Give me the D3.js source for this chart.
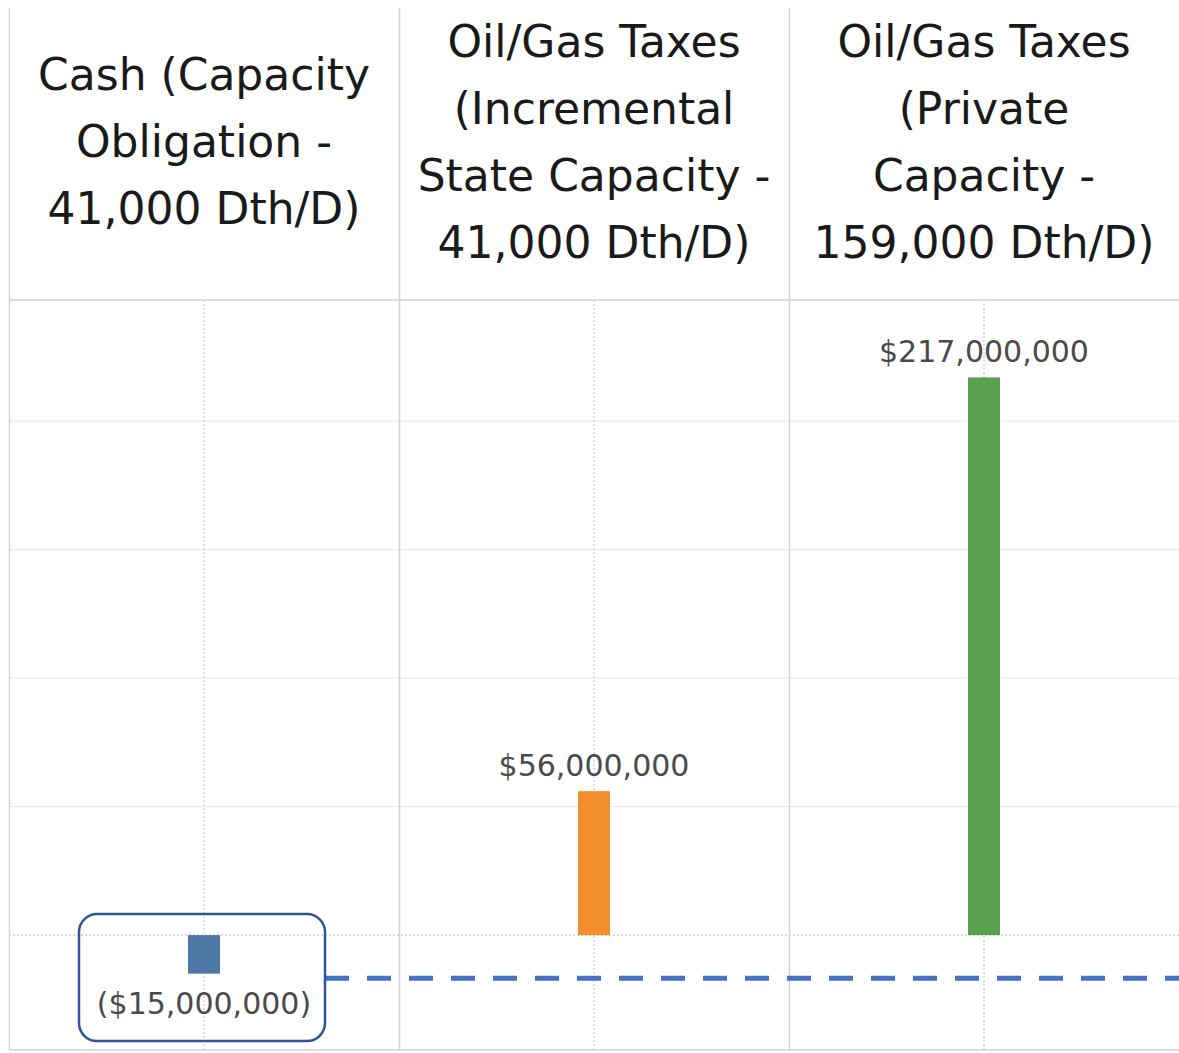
<!DOCTYPE html>
<html>
<head>
<meta charset="utf-8">
<script src="https://cdn.jsdelivr.net/npm/d3@7"></script>
<style>
  html, body { margin: 0; padding: 0; background: #fff; }
  svg { display: block; }
</style>
</head>
<body>
<div id="chart"></div>
<script>
// data
const categories = ['cash', 'incremental', 'private'];
const headerLines = [
  ['Cash (Capacity', 'Obligation -', '41,000 Dth/D)'],
  ['Oil/Gas Taxes', '(Incremental', 'State Capacity -', '41,000 Dth/D)'],
  ['Oil/Gas Taxes', '(Private', 'Capacity -', '159,000 Dth/D)']
];
const values = [-15000000, 56000000, 217000000];
const barColors = ['#4e79a7', '#f28e2b', '#59a14f'];
const gridValues = [50000000, 100000000, 150000000, 200000000];
const refLineValue = -16800000; // dashed annotation line

const width = 1179;
const height = 1053;
const left = 9;
const headerTop = 8;
const headerBottom = 300;
const plotBottom = 1050;
const fontFamily = "'DejaVu Sans', 'Open Sans', sans-serif";

const svg = d3.select('#chart')
  .append('svg')
  .attr('width', width)
  .attr('height', height);

const x = d3.scaleBand()
  .domain(categories)
  .range([left, left + 3 * 390])
  .padding(0);

const y = d3.scaleLinear()
  .domain([-44700000, 247100000])
  .range([plotBottom, headerBottom]);

const fmt = (v) => {
  const s = '$' + d3.format(',')(Math.abs(v));
  return v < 0 ? '(' + s + ')' : s;
};

// horizontal gridlines
svg.append('g')
  .selectAll('line')
  .data(gridValues)
  .join('line')
  .attr('x1', left)
  .attr('x2', width)
  .attr('y1', (d) => y(d))
  .attr('y2', (d) => y(d))
  .attr('stroke', '#ebebeb')
  .attr('stroke-width', 1.2);

// zero line (dotted)
svg.append('line')
  .attr('x1', left)
  .attr('x2', width)
  .attr('y1', y(0))
  .attr('y2', y(0))
  .attr('stroke', '#c4c4c4')
  .attr('stroke-width', 1.2)
  .attr('stroke-dasharray', '2,2');

// column centre dotted lines
svg.append('g')
  .selectAll('line')
  .data(categories)
  .join('line')
  .attr('x1', (d) => x(d) + x.bandwidth() / 2)
  .attr('x2', (d) => x(d) + x.bandwidth() / 2)
  .attr('y1', headerBottom)
  .attr('y2', plotBottom)
  .attr('stroke', '#c8c8c8')
  .attr('stroke-width', 1.2)
  .attr('stroke-dasharray', '2,2');

// column dividers + frame
svg.append('g')
  .selectAll('line')
  .data(categories)
  .join('line')
  .attr('x1', (d) => x(d) + 0.5)
  .attr('x2', (d) => x(d) + 0.5)
  .attr('y1', headerTop)
  .attr('y2', plotBottom)
  .attr('stroke', '#d2d2d2')
  .attr('stroke-width', 1.5);

svg.append('line')
  .attr('x1', left)
  .attr('x2', width)
  .attr('y1', headerBottom)
  .attr('y2', headerBottom)
  .attr('stroke', '#d2d2d2')
  .attr('stroke-width', 1.5);

svg.append('line')
  .attr('x1', left)
  .attr('x2', width)
  .attr('y1', plotBottom)
  .attr('y2', plotBottom)
  .attr('stroke', '#d2d2d2')
  .attr('stroke-width', 1.5);

// headers
const lineH = 67;
const header = svg.append('g')
  .selectAll('text')
  .data(categories)
  .join('text')
  .attr('text-anchor', 'middle')
  .attr('font-family', fontFamily)
  .attr('font-size', 44)
  .attr('fill', '#1a1a1a');

header.each(function (d, i) {
  const lines = headerLines[i];
  const cx = x(d) + x.bandwidth() / 2;
  const mid = (headerTop + headerBottom) / 2 - 8;
  const first = mid - ((lines.length - 1) * lineH) / 2 + 11;
  d3.select(this)
    .selectAll('tspan')
    .data(lines)
    .join('tspan')
    .attr('x', cx)
    .attr('y', (l, j) => first + j * lineH)
    .text((l) => l);
});

// bars
const barW = 32;
svg.append('g')
  .selectAll('rect')
  .data(values)
  .join('rect')
  .attr('x', (d, i) => x(categories[i]) + x.bandwidth() / 2 - barW / 2)
  .attr('y', (d) => y(Math.max(0, d)))
  .attr('width', barW)
  .attr('height', (d) => Math.abs(y(d) - y(0)))
  .attr('fill', (d, i) => barColors[i]);

// value labels
svg.append('g')
  .selectAll('text')
  .data(values)
  .join('text')
  .attr('x', (d, i) => x(categories[i]) + x.bandwidth() / 2)
  .attr('y', (d) => d >= 0 ? y(d) - 15 : y(d) + 40)
  .attr('text-anchor', 'middle')
  .attr('font-family', fontFamily)
  .attr('font-size', 30)
  .attr('fill', '#4a4a4a')
  .text((d) => fmt(d));

// annotation: rounded box around the negative bar + dashed line
const negIdx = values.findIndex((v) => v < 0);
const cxNeg = x(categories[negIdx]) + x.bandwidth() / 2;
const boxX = cxNeg - 125;
const boxW = 246;
const boxY = y(0) - 21;
const boxH = 127;

svg.append('line')
  .attr('x1', boxX + boxW)
  .attr('x2', width)
  .attr('y1', y(refLineValue))
  .attr('y2', y(refLineValue))
  .attr('stroke', '#4472c4')
  .attr('stroke-width', 5)
  .attr('stroke-dasharray', '24,18');

svg.append('rect')
  .attr('x', boxX)
  .attr('y', boxY)
  .attr('width', boxW)
  .attr('height', boxH)
  .attr('rx', 18)
  .attr('fill', 'none')
  .attr('stroke', '#2f5597')
  .attr('stroke-width', 2.5);
</script>
</body>
</html>
